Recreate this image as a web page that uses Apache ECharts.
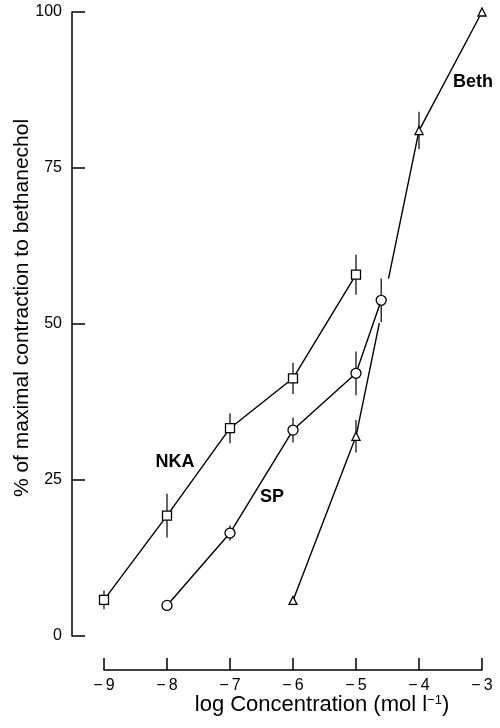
<!DOCTYPE html>
<html>
<head>
<meta charset="utf-8">
<script src="https://cdn.jsdelivr.net/npm/echarts@6/dist/echarts.min.js"></script>
<style>
  html, body { margin: 0; padding: 0; background: #fff; }
  #chart { width: 500px; height: 728px; }
</style>
</head>
<body>
<div id="chart"></div>
<script>
// values
const xTicks = [-9, -8, -7, -6, -5, -4, -3];
const yTicks = [0, 25, 50, 75, 100];

const nkaX = [-9, -8, -7, -6, -5];
const nkaY = [5.8, 19.3, 33.3, 41.3, 57.9];
const nkaErr = [1.5, 3.5, 2.4, 2.5, 3.2];

const spX = [-8, -7, -6, -5, -4.6];
const spY = [4.9, 16.5, 33, 42.1, 53.8];
const spErr = [0, 1.2, 2, 3.5, 3.5];

const bethX = [-6, -5, -4, -3];
const bethY = [5.7, 32, 81, 100];
const bethErr = [0, 2.6, 3, 0];

const FONT = '"Liberation Sans", Arial, sans-serif';

function pts(xs, ys) {
  return xs.map((x, i) => [x, ys[i]]);
}
function bars(xs, ys, es) {
  return xs.map((x, i) => [x, ys[i] - es[i], ys[i] + es[i]]).filter((d, i) => es[i] > 0);
}
function errItem(params, api) {
  const a = api.coord([api.value(0), api.value(1)]);
  const b = api.coord([api.value(0), api.value(2)]);
  return {
    type: 'line',
    shape: { x1: a[0], y1: a[1], x2: b[0], y2: b[1] },
    style: { stroke: '#000', lineWidth: 1.2 }
  };
}
function lineSeries(name, data, symbol, size, z) {
  return {
    name: name,
    type: 'line',
    data: data,
    symbol: symbol,
    symbolSize: size,
    showAllSymbol: true,
    z: z,
    lineStyle: { color: '#000', width: 1.4 },
    itemStyle: { color: '#fff', borderColor: '#000', borderWidth: 1.3 }
  };
}
function errSeries(data, z) {
  return {
    type: 'custom',
    renderItem: errItem,
    data: data,
    z: z,
    silent: true
  };
}
function tag(text, x, y) {
  return {
    type: 'text', x: x, y: y,
    style: { text: text, font: 'bold 18px ' + FONT, fill: '#000', align: 'center', verticalAlign: 'middle' }
  };
}

// the Beth line is broken where it passes behind the last SP point
const gapSeries = {
  type: 'custom',
  silent: true,
  z: 2,
  data: [[spX[spX.length - 1], spY[spY.length - 1]]],
  renderItem: (params, api) => {
    const c = api.coord([api.value(0), api.value(1)]);
    return { type: 'circle', shape: { cx: c[0], cy: c[1], r: 23 }, style: { fill: '#fff' } };
  }
};

const chart = echarts.init(document.getElementById('chart'));
const option = {
  animation: false,
  backgroundColor: '#fff',
  grid: { left: 104, right: 18, top: 12, bottom: 92, outerBoundsMode: 'none', containLabel: false },
  xAxis: {
    type: 'value',
    min: xTicks[0],
    max: xTicks[xTicks.length - 1],
    interval: 1,
    offset: 34,
    splitLine: { show: false },
    axisLine: { onZero: false, lineStyle: { color: '#000', width: 1.5 } },
    axisTick: { inside: true, length: 12, lineStyle: { color: '#000', width: 1.5 } },
    axisLabel: {
      color: '#000', fontSize: 16, fontFamily: FONT, margin: 8,
      formatter: v => (v < 0 ? '\u2212\u2009' + Math.abs(v) : String(v))
    },
    name: 'log Concentration (mol l{sup|\u22121})',
    nameLocation: 'middle',
    nameMoveOverlap: false,
    nameGap: 24,
    nameTextStyle: {
      color: '#000', fontSize: 22, fontFamily: FONT,
      padding: [0, 0, 0, 58],
      rich: { sup: { fontSize: 13, verticalAlign: 'top', padding: [0, 0, 8, 0], fontFamily: FONT, color: '#000' } }
    }
  },
  yAxis: {
    type: 'value',
    min: yTicks[0],
    max: yTicks[yTicks.length - 1],
    interval: 25,
    offset: 32,
    splitLine: { show: false },
    axisLine: { show: true, onZero: false, lineStyle: { color: '#000', width: 1.5 } },
    axisTick: { show: true, inside: true, length: 13, lineStyle: { color: '#000', width: 1.5 } },
    axisLabel: { color: '#000', fontSize: 16, fontFamily: FONT, margin: 10 },
    name: '% of maximal contraction to bethanechol',
    nameLocation: 'middle',
    nameMoveOverlap: false,
    nameGap: 39,
    nameTextStyle: { color: '#000', fontSize: 21, fontFamily: FONT, padding: [0, 0, 0, 32] }
  },
  graphic: [
    tag('NKA', 175, 462),
    tag('SP', 272, 497),
    tag('Beth', 473, 82)
  ],
  series: [
    errSeries(bars(bethX, bethY, bethErr), 1),
    lineSeries('Beth', pts(bethX, bethY), 'triangle', 8, 1),
    gapSeries,
    errSeries(bars(nkaX, nkaY, nkaErr), 3),
    errSeries(bars(spX, spY, spErr), 3),
    lineSeries('NKA', pts(nkaX, nkaY), 'rect', 9, 3),
    lineSeries('SP', pts(spX, spY), 'circle', 10, 3)
  ]
};
chart.setOption(option);
</script>
</body>
</html>
